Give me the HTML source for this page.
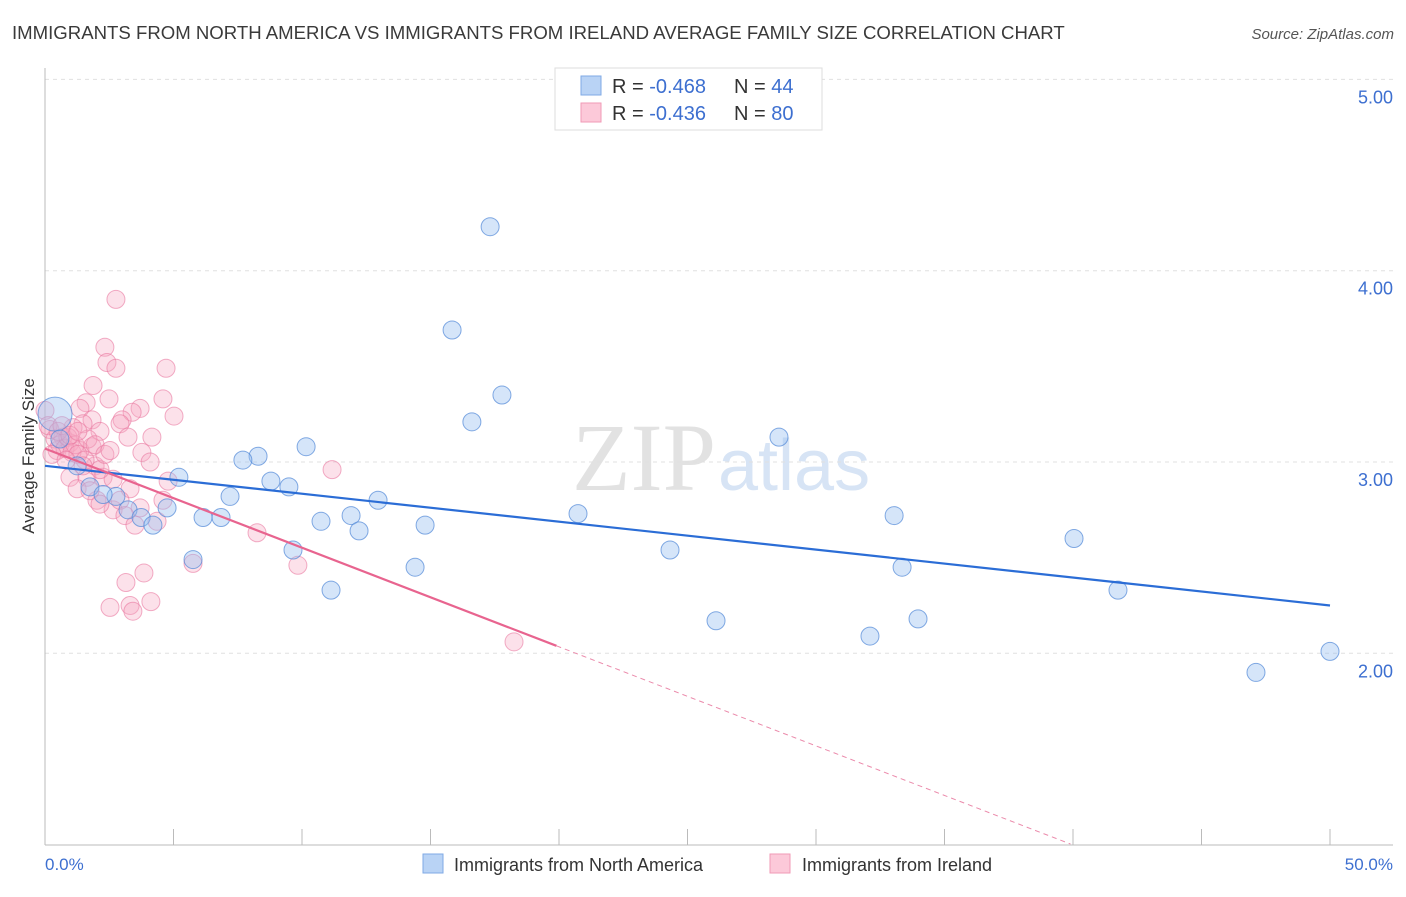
<!DOCTYPE html>
<html><head><meta charset="utf-8"><style>
body{margin:0;background:#fff;font-family:"Liberation Sans",sans-serif;}
</style></head><body>
<svg width="1406" height="892" xmlns="http://www.w3.org/2000/svg" font-family="Liberation Sans, sans-serif">
<text x="12" y="39" font-size="18.6" fill="#3a3a3a">IMMIGRANTS FROM NORTH AMERICA VS IMMIGRANTS FROM IRELAND AVERAGE FAMILY SIZE CORRELATION CHART</text>
<text x="1394" y="39" font-size="15" fill="#555" font-style="italic" text-anchor="end">Source: ZipAtlas.com</text>
<text x="716" y="490" font-size="96" fill="#e2e2e2" text-anchor="end" font-family="Liberation Serif, serif">ZIP</text>
<text x="718" y="490" font-size="72" fill="#d7e4f5">atlas</text>
<g id="grid"></g>
<g id="axes"></g>
<g id="pts"></g>
<g id="lines"></g>
<text transform="translate(34,456) rotate(-90)" font-size="17" fill="#333" text-anchor="middle">Average Family Size</text>
<text x="45" y="870" font-size="17" fill="#3d6fd0">0.0%</text>
<text x="1393" y="870" font-size="17" fill="#3d6fd0" text-anchor="end">50.0%</text>
<g>
<rect x="555" y="68" width="267" height="62" fill="#fff" stroke="#ddd"/>
<rect x="581" y="76" width="20" height="19" fill="#b9d3f5" stroke="#7fa9e5"/>
<rect x="581" y="103" width="20" height="19" fill="#fcc9d9" stroke="#f09ab6"/>
<text x="612" y="93" font-size="20" fill="#333">R = <tspan fill="#3d6fd0">-0.468</tspan><tspan x="734">N = </tspan><tspan fill="#3d6fd0">44</tspan></text>
<text x="612" y="120" font-size="20" fill="#333">R = <tspan fill="#3d6fd0">-0.436</tspan><tspan x="734">N = </tspan><tspan fill="#3d6fd0">80</tspan></text>
</g>
<g>
<rect x="423" y="854" width="20" height="19" fill="#b9d3f5" stroke="#7fa9e5"/>
<text x="454" y="871" font-size="18" fill="#333">Immigrants from North America</text>
<rect x="770" y="854" width="20" height="19" fill="#fcc9d9" stroke="#f09ab6"/>
<text x="802" y="871" font-size="18" fill="#333">Immigrants from Ireland</text>
</g>
</svg>
<script>
const yTicks=[2,3,4,5];
const yTickLabels=["2.00","3.00","4.00","5.00"];
const xTicks=[5,10,15,20,25,30,35,40,45,50];
const blueX=[17.32,15.84,17.78,16.61,28.56,10.16,8.29,7.70,5.21,8.79,9.49,7.20,12.96,2.76,4.75,3.23,3.74,6.15,6.85,10.74,11.91,12.22,14.79,20.74,33.04,4.20,9.65,24.32,40.04,5.76,14.40,33.35,11.13,41.75,26.11,33.97,32.10,50.0,47.12,1.25,1.75,2.26,0.39,0.58];
const blueY=[4.23,3.69,3.35,3.21,3.13,3.08,3.03,3.01,2.92,2.90,2.87,2.82,2.80,2.82,2.76,2.75,2.71,2.71,2.71,2.69,2.72,2.64,2.67,2.73,2.72,2.67,2.54,2.54,2.60,2.49,2.45,2.45,2.33,2.33,2.17,2.18,2.09,2.01,1.90,2.98,2.87,2.83,3.25,3.12];
const blueR=[9,9,9,9,9,9,9,9,9,9,9,9,9,9,9,9,9,9,9,9,9,9,9,9,9,9,9,9,9,9,9,9,9,9,9,9,9,9,9,9,9,9,17,9];
const pinkX=[2.76,2.33,2.41,2.76,4.71,1.87,2.49,4.59,1.60,1.36,3.70,3.39,5.02,3.00,1.83,2.14,2.92,3.23,4.16,1.48,1.09,3.77,4.09,1.83,0.70,0.47,0.97,0.19,1.36,1.95,11.17,0.97,1.63,2.26,2.65,4.79,1.25,3.31,2.02,2.65,3.70,4.59,4.36,8.25,5.76,9.84,3.85,3.15,4.12,2.53,3.31,3.42,18.25,0,0.12,0.39,0.58,0.78,0.89,1.05,1.17,1.28,1.56,0.27,0.51,0.66,0.82,1.67,1.95,2.14,2.33,2.53,1.75,2.92,3.11,2.14,1.48,0.97,1.28,3.50];
const pinkY=[3.85,3.60,3.52,3.49,3.49,3.40,3.33,3.33,3.31,3.28,3.28,3.26,3.24,3.22,3.22,3.16,3.20,3.13,3.13,3.20,3.18,3.05,3.00,3.08,3.13,3.06,3.10,3.17,3.06,2.98,2.96,2.92,2.92,2.92,2.91,2.90,2.86,2.86,2.80,2.75,2.76,2.80,2.69,2.63,2.47,2.46,2.42,2.37,2.27,2.24,2.25,2.22,2.06,3.27,3.19,3.12,3.09,3.07,3.13,3.05,3.09,3.04,3.01,3.04,3.16,3.19,3.01,3.12,3.09,2.96,3.04,3.06,2.85,2.80,2.72,2.78,2.98,3.14,3.16,2.67];
const blueFit=[2.98,-0.0146];
const pinkFit=[3.07,-0.0518];
const pinkSolidEnd=19.9, pinkDashEnd=39.9;

const X=v=>45+v*25.7, Y=v=>462-(v-3)*191.3;
const NS="http://www.w3.org/2000/svg";
function mk(tag,attrs,parent){const e=document.createElementNS(NS,tag);for(const k in attrs)e.setAttribute(k,attrs[k]);document.getElementById(parent).appendChild(e);return e;}
yTicks.forEach((t,i)=>{
  const g=mk('line',{x1:45,x2:1393,y1:Y(t),y2:Y(t),stroke:'#e0e0e0','stroke-dasharray':'4,4'},'grid');
  
  
  const l=mk('text',{x:1393,y:Y(t)+24,'font-size':18,fill:'#3d6fd0','text-anchor':'end'},'grid');
  l.textContent=yTickLabels[i];
  
  
});
const ya=mk('line',{x1:45,x2:45,y1:68,y2:845,stroke:'#bbb'},'axes');


const xa=mk('line',{x1:45,x2:1393,y1:845,y2:845,stroke:'#bbb'},'axes');


xTicks.forEach(t=>{
  const k=mk('line',{x1:X(t),x2:X(t),y1:829,y2:845,stroke:'#bbb'},'axes');
  
  
});
pinkX.forEach((x,i)=>{
  const c=mk('circle',{cx:X(x),cy:Y(pinkY[i]),r:9,fill:'rgba(246,168,194,0.35)',stroke:'rgba(234,120,160,0.6)','stroke-width':1},'pts');
  
  
});
blueX.forEach((x,i)=>{
  const c=mk('circle',{cx:X(x),cy:Y(blueY[i]),r:blueR[i],fill:'rgba(150,190,240,0.4)',stroke:'rgba(80,135,215,0.7)','stroke-width':1},'pts');
  
  
});
const bl=mk('line',{x1:X(0),y1:Y(blueFit[0]),x2:X(50),y2:Y(blueFit[0]+blueFit[1]*50),stroke:'#2b6dd6','stroke-width':2.2},'lines');


const pl=mk('line',{x1:X(0),y1:Y(pinkFit[0]),x2:X(pinkSolidEnd),y2:Y(pinkFit[0]+pinkFit[1]*pinkSolidEnd),stroke:'#e8648f','stroke-width':2.2},'lines');


const pd=mk('line',{x1:X(pinkSolidEnd),y1:Y(pinkFit[0]+pinkFit[1]*pinkSolidEnd),x2:X(pinkDashEnd),y2:Y(pinkFit[0]+pinkFit[1]*pinkDashEnd),stroke:'#eb8aab','stroke-width':1,'stroke-dasharray':'5,4'},'lines');


</script>
</body></html>
